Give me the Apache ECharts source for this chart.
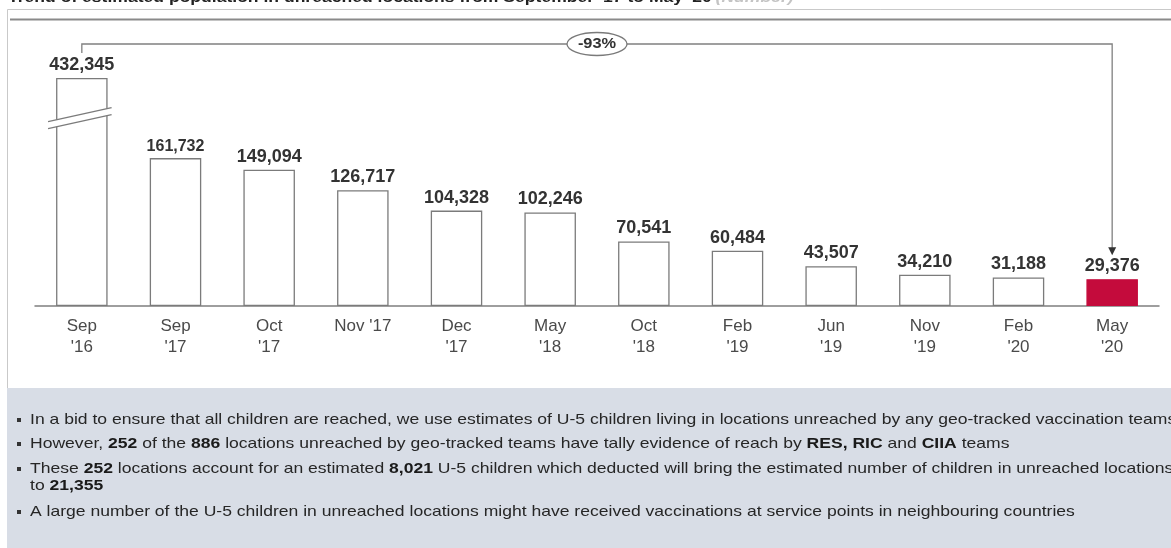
<!DOCTYPE html>
<html>
<head>
<meta charset="utf-8">
<script src="https://cdn.jsdelivr.net/npm/echarts@6/dist/echarts.min.js"></script>
<style>
  html, body { margin: 0; padding: 0; background: #ffffff; }
  #chart { width: 1171px; height: 548px; }
</style>
</head>
<body>
<div id="chart"></div>
<script>
// Survey rounds and estimated U-5 population in unreached locations
const categories = ["Sep\n'16", "Sep\n'17", "Oct\n'17", "Nov '17", "Dec\n'17", "May\n'18",
                    "Oct\n'18", "Feb\n'19", "Jun\n'19", "Nov\n'19", "Feb\n'20", "May\n'20"];
const population = [432345, 161732, 149094, 126717, 104328, 102246,
                     70541, 60484, 43507, 34210, 31188, 29376];
const changeLabel = '-93%';

// Value-axis break that shortens the tall first bar
const axisBreak = { start: 200000, end: 395000, gap: 12000 };

const titleText = "Trend of estimated population in unreached locations from September '17 to May '20";
const unitText = '(Number)';

// Notes under the chart; {b|...} marks bold runs
const notes = [
  'In a bid to ensure that all children are reached, we use estimates of U-5 children living in locations unreached by any geo-tracked vaccination teams',
  'However, {b|252} of the {b|886} locations unreached by geo-tracked teams have tally evidence of reach by {b|RES, RIC} and {b|CIIA} teams',
  'These {b|252} locations account for an estimated {b|8,021} U-5 children which deducted will bring the estimated number of children in unreached locations\nto {b|21,355}',
  'A large number of the U-5 children in unreached locations might have received vaccinations at service points in neighbouring countries'
];

const FONT = '"Liberation Sans", Arial, sans-serif';
const WIDE = 1.17;   // horizontal stretch used for the free-standing texts
const chart = echarts.init(document.getElementById('chart'), null, { renderer: 'canvas' });

const lastIndex = population.length - 1;

const barData = population.map((v, i) => ({
  value: v,
  itemStyle: i === lastIndex
    ? { color: '#c40b3c', borderColor: '#c40b3c' }
    : { color: '#ffffff', borderColor: '#7b7b7b' },
  label: i === 1 ? { fontSize: 16 } : undefined
}));

// Double slash drawn across the broken bar
function renderBreakMark(params, api) {
  if (params.dataIndex !== 0) return null;
  const lo = api.coord([0, axisBreak.start]);
  const hi = api.coord([0, axisBreak.end]);
  const cx = lo[0];
  const cy = (lo[1] + hi[1]) / 2;
  const half = api.size([1, 0])[0] * 0.55 / 2;
  const left = cx - half - 8;
  const right = cx + half + 4;
  const k = 0.22;
  const yAt = (x, off) => cy + off - k * (x - cx);
  return {
    type: 'group',
    children: [
      {
        type: 'polygon',
        shape: { points: [[left, yAt(left, -3.5)], [right, yAt(right, -3.5)],
                          [right, yAt(right, 3.5)], [left, yAt(left, 3.5)]] },
        style: { fill: '#ffffff' }
      },
      {
        type: 'line',
        shape: { x1: left, y1: yAt(left, -3.5), x2: right, y2: yAt(right, -3.5) },
        style: { stroke: '#7b7b7b', lineWidth: 1.3 }
      },
      {
        type: 'line',
        shape: { x1: left, y1: yAt(left, 3.5), x2: right, y2: yAt(right, 3.5) },
        style: { stroke: '#7b7b7b', lineWidth: 1.3 }
      }
    ]
  };
}

const option = {
  animation: false,
  backgroundColor: '#ffffff',
  grid: { left: 35, right: 12, top: 78, bottom: 242, containLabel: false },
  xAxis: {
    type: 'category',
    data: categories,
    axisLine: { lineStyle: { color: '#7f7f7f', width: 1.5 } },
    axisTick: { show: false },
    axisLabel: {
      color: '#4a4a4a', fontFamily: FONT, fontSize: 17, lineHeight: 21,
      margin: 10, interval: 0
    }
  },
  yAxis: {
    type: 'value',
    min: 0,
    max: population[0],
    breaks: [axisBreak],
    breakArea: { show: false },
    axisLine: { show: false },
    axisTick: { show: false },
    axisLabel: { show: false },
    splitLine: { show: false }
  },
  series: [
    {
      type: 'bar',
      data: barData,
      barWidth: '55%',
      itemStyle: { borderWidth: 1.3 },
      label: {
        show: true, position: 'top', distance: 4,
        color: '#333333', fontFamily: FONT, fontWeight: 'bold', fontSize: 18,
        formatter: p => p.value.toLocaleString('en-US')
      },
      z: 2
    },
    {
      type: 'custom',
      data: population.map((v, i) => [i, v]),
      renderItem: renderBreakMark,
      z: 5,
      silent: true
    }
  ]
};

chart.setOption(option);

// Frame, title, annotation and notes placed from the axis scales
function drawOverlay() {
  const first = chart.convertToPixel({ seriesIndex: 0 }, [0, population[0]]);
  const last = chart.convertToPixel({ seriesIndex: 0 }, [lastIndex, population[lastIndex]]);
  const topY = 44;
  const midX = (first[0] + last[0]) / 2;
  const arrowTip = last[1] - 24;
  const lineStyle = { stroke: '#808080', lineWidth: 1.3 };

  const elements = [
    // title (partly cut off at the top edge)
    {
      type: 'text', x: 8, y: -10, scaleX: WIDE, z: 10,
      style: {
        text: '{t|' + titleText + '} {u|' + unitText + '}',
        rich: {
          t: { fontFamily: FONT, fontWeight: 'bold', fontSize: 15, fill: '#222222' },
          u: { fontFamily: FONT, fontStyle: 'italic', fontWeight: 'bold', fontSize: 15, fill: '#c4c4c4' }
        }
      }
    },
    // chart frame
    { type: 'rect', z: 0, shape: { x: 7.5, y: 9.5, width: 1180, height: 379 },
      style: { fill: 'none', stroke: '#c9c9c9', lineWidth: 1 } },
    { type: 'line', z: 1, shape: { x1: 10, y1: 19.5, x2: 1171, y2: 19.5 },
      style: { stroke: '#8a8a8a', lineWidth: 2 } },
    // notes panel
    { type: 'rect', z: 0, shape: { x: 7, y: 388, width: 1164, height: 160 },
      style: { fill: '#d8dde6' } },
    // change bracket
    { type: 'polyline', z: 6,
      shape: { points: [[first[0], first[1] - 25], [first[0], topY], [last[0], topY], [last[0], arrowTip - 6]] },
      style: Object.assign({ fill: 'none' }, lineStyle) },
    { type: 'polygon', z: 6,
      shape: { points: [[last[0] - 4, arrowTip - 8], [last[0] + 4, arrowTip - 8], [last[0], arrowTip]] },
      style: { fill: '#333333' } },
    { type: 'ellipse', z: 7, shape: { cx: midX, cy: topY, rx: 30, ry: 11.5 },
      style: { fill: '#ffffff', stroke: '#7a7a7a', lineWidth: 1.3 } },
    { type: 'text', z: 8, x: midX, y: topY + 0.5, scaleX: WIDE,
      style: { text: changeLabel, fontFamily: FONT, fontWeight: 'bold', fontSize: 14,
               fill: '#333333', align: 'center', verticalAlign: 'middle' } }
  ];

  const noteY = [420, 444, 469, 512];
  notes.forEach((t, i) => {
    elements.push({ type: 'rect', z: 9, shape: { x: 17, y: noteY[i] - 2, width: 4, height: 4 },
                    style: { fill: '#333333' } });
    elements.push({
      type: 'text', z: 9, x: 30, y: noteY[i] - 8.5, scaleX: WIDE,
      style: {
        text: t,
        fontFamily: FONT, fontSize: 15, fill: '#262626', lineHeight: 17,
        rich: {
          b: { fontFamily: FONT, fontWeight: 'bold', fontSize: 15, fill: '#1a1a1a', lineHeight: 17 }
        }
      }
    });
  });

  chart.setOption({ graphic: { elements } });
}

drawOverlay();
</script>
</body>
</html>
